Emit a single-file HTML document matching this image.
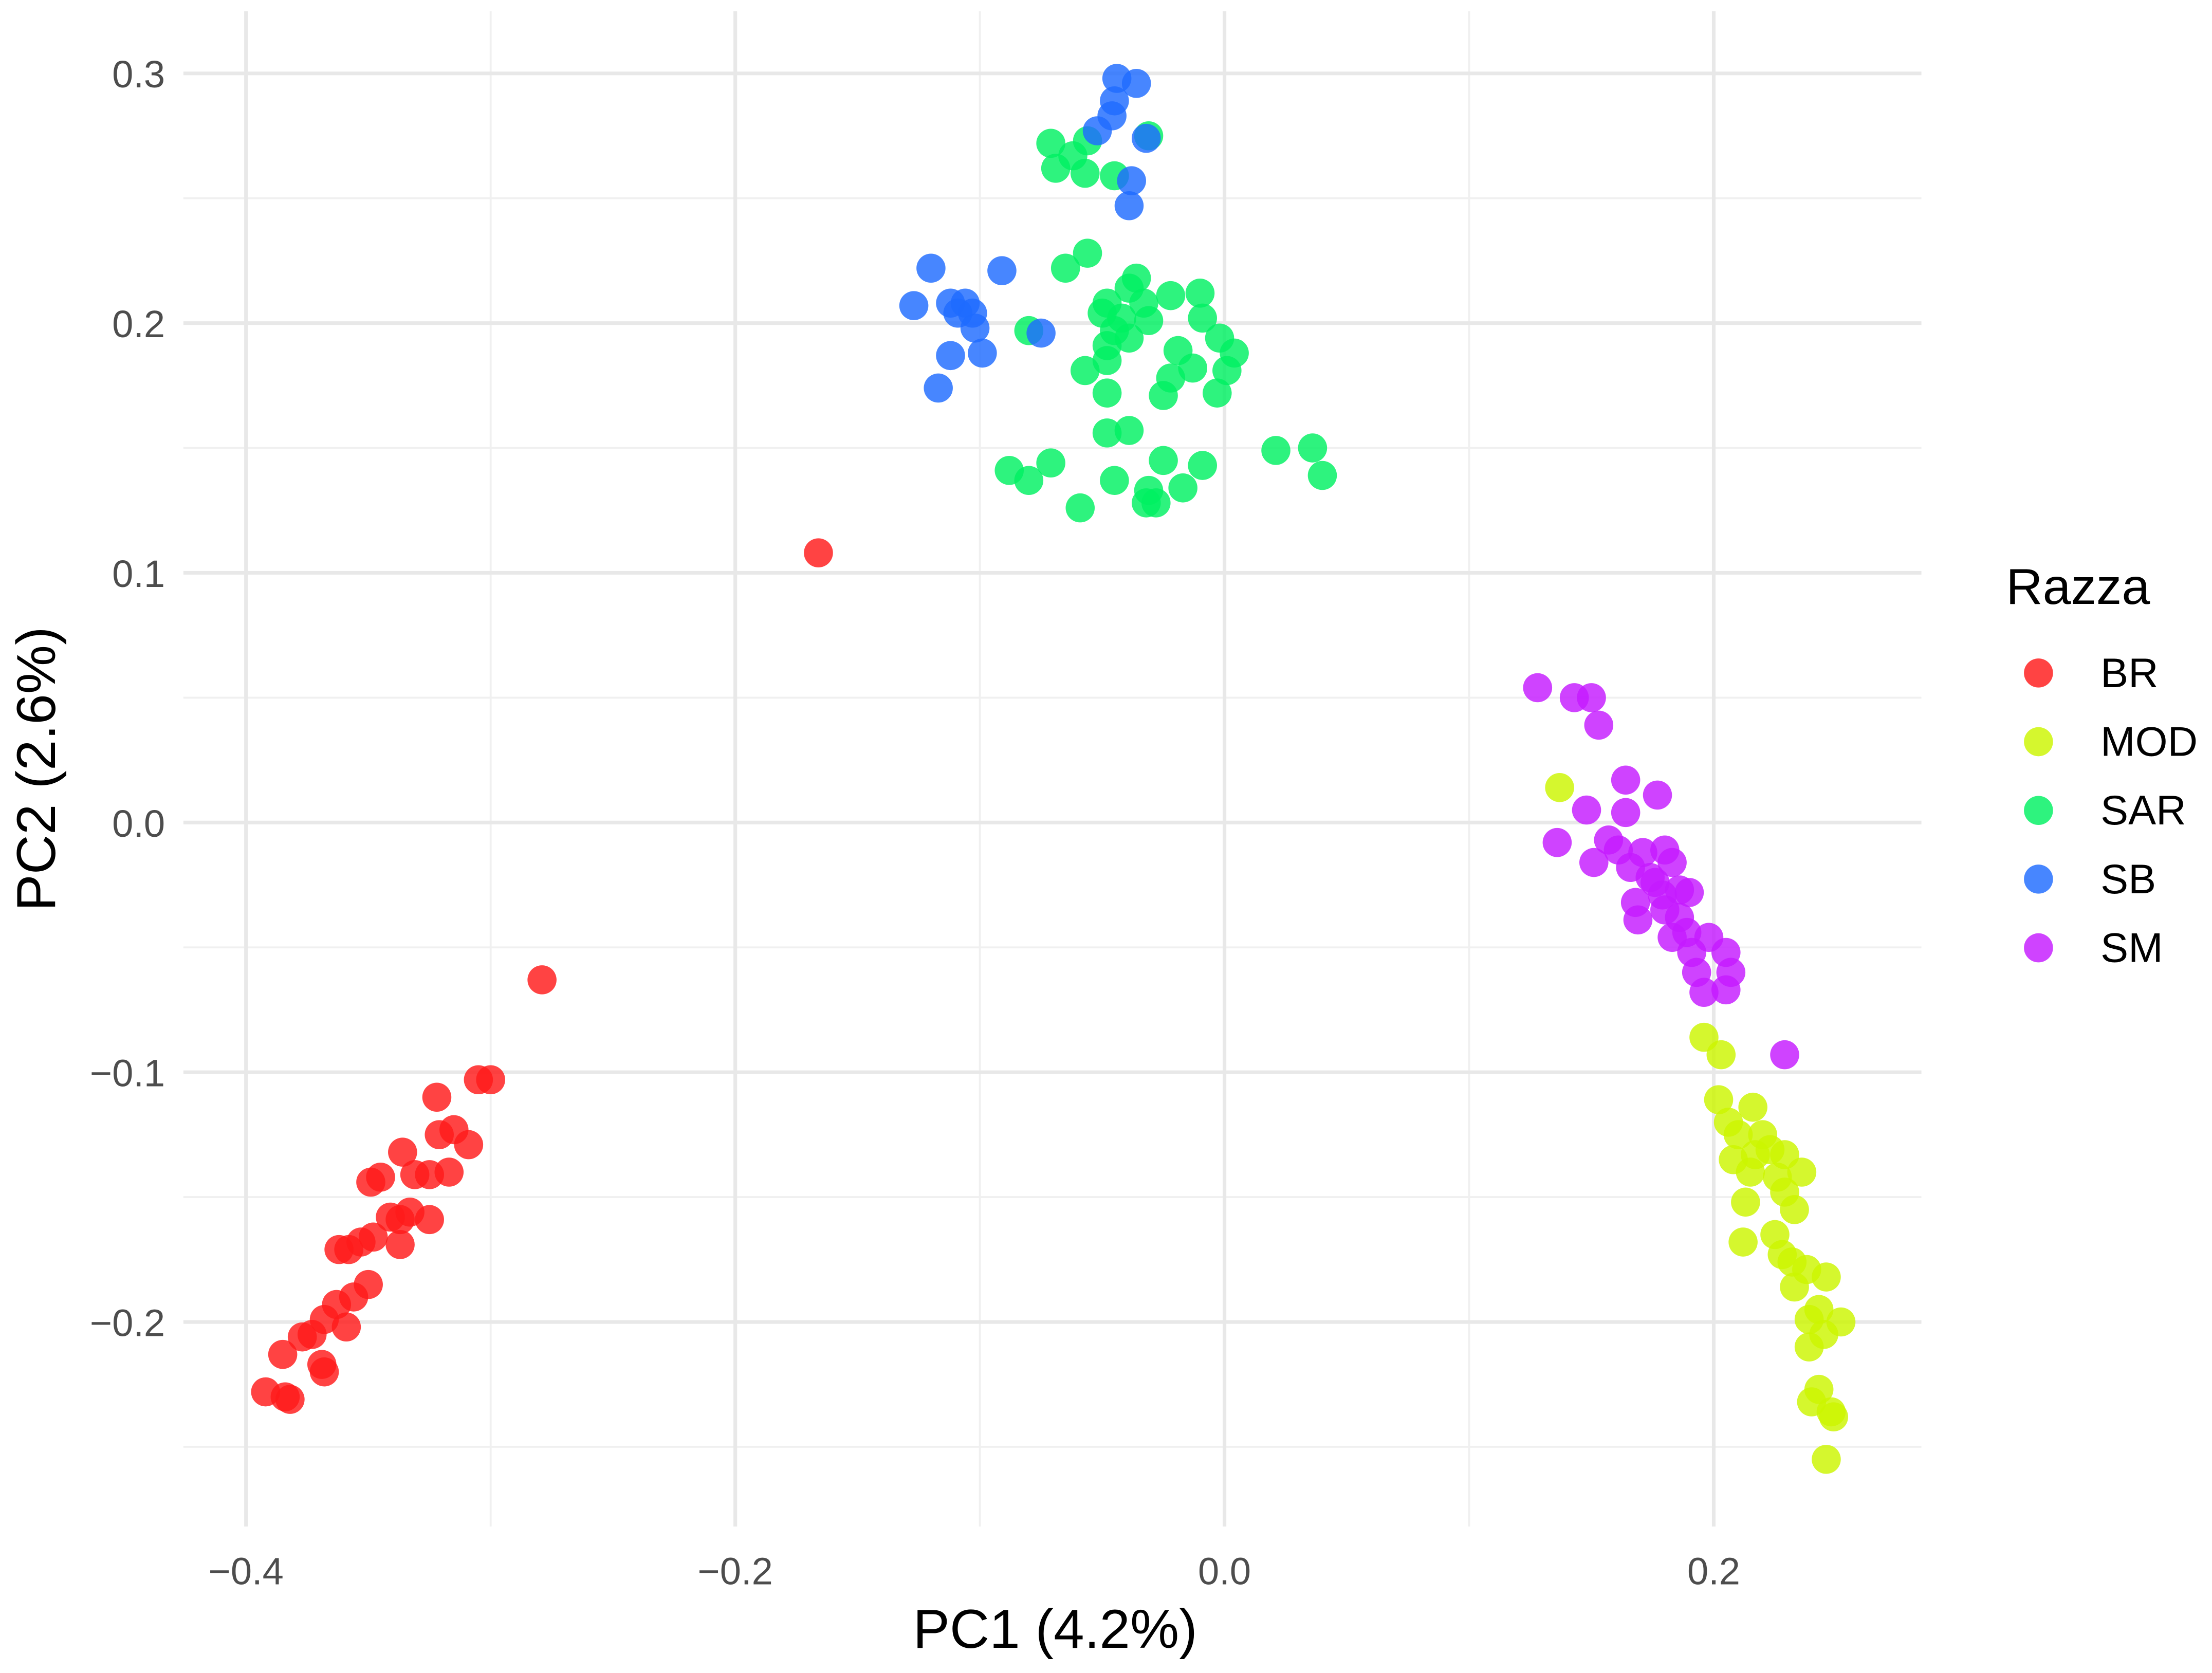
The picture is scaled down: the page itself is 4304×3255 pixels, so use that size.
<!DOCTYPE html>
<html><head><meta charset="utf-8">
<style>
html,body{margin:0;padding:0;background:#fff;}
svg{display:block;}
text{font-family:"Liberation Sans",Arial,sans-serif;}
</style></head>
<body>
<svg id="chart" width="4304" height="3255" viewBox="0 0 1568 1185.8" xmlns="http://www.w3.org/2000/svg">
<rect x="0" y="0" width="1568" height="1186" fill="#fff"/>
<g id="grid"></g>
<g id="xticks"></g>
<g id="yticks"></g>
<g id="points"></g>
<text x="748" y="1168" font-size="39" text-anchor="middle" fill="#000">PC1 (4.2%)</text>
<text transform="translate(39,545) rotate(-90)" font-size="39" text-anchor="middle" fill="#000">PC2 (2.6%)</text>
<g id="legend">
<text x="1422" y="428" font-size="36" fill="#000">Razza</text>
</g>
</svg>
<script>
const xMajor=[-0.4,-0.2,0.0,0.2];
const xMinor=[-0.3,-0.1,0.1];
const xTickLabels=["-0.4","-0.2","0.0","0.2"];
const yMajor=[-0.2,-0.1,0.0,0.1,0.2,0.3];
const yMinor=[-0.25,-0.15,-0.05,0.05,0.15,0.25];
const yTickLabels=["-0.2","-0.1","0.0","0.1","0.2","0.3"];
const groups=["BR","MOD","SAR","SB","SM"];
const groupColors=["#ff1a1a","#ccf500","#00f062","#1f6bff","#c51aff"];
const brX=[-0.166,-0.279,-0.300,-0.305,-0.322,-0.309,-0.315,-0.321,-0.317,-0.325,-0.336,-0.331,-0.325,-0.337,-0.333,-0.341,-0.345,-0.349,-0.337,-0.348,-0.353,-0.358,-0.362,-0.350,-0.359,-0.363,-0.368,-0.373,-0.377,-0.369,-0.368,-0.385,-0.392,-0.384,-0.382,-0.356];
const brY=[0.108,-0.063,-0.103,-0.103,-0.110,-0.129,-0.123,-0.125,-0.140,-0.141,-0.132,-0.141,-0.159,-0.159,-0.156,-0.158,-0.142,-0.144,-0.169,-0.166,-0.168,-0.171,-0.171,-0.185,-0.202,-0.193,-0.199,-0.205,-0.206,-0.217,-0.220,-0.213,-0.228,-0.230,-0.231,-0.190];
const modX=[0.137,0.196,0.203,0.202,0.206,0.216,0.210,0.220,0.223,0.208,0.215,0.229,0.236,0.229,0.213,0.233,0.225,0.212,0.228,0.232,0.238,0.233,0.246,0.252,0.243,0.239,0.245,0.239,0.243,0.240,0.248,0.249,0.246,0.217,0.226];
const modY=[0.014,-0.086,-0.093,-0.111,-0.120,-0.114,-0.125,-0.125,-0.131,-0.135,-0.140,-0.133,-0.140,-0.148,-0.152,-0.155,-0.165,-0.168,-0.173,-0.176,-0.179,-0.186,-0.182,-0.200,-0.195,-0.199,-0.205,-0.210,-0.227,-0.232,-0.236,-0.238,-0.255,-0.133,-0.142];
const sarX=[-0.071,-0.062,-0.056,-0.069,-0.057,-0.045,-0.031,-0.056,-0.065,-0.080,-0.045,-0.048,-0.039,-0.036,-0.050,-0.042,-0.033,-0.022,-0.010,-0.009,-0.048,-0.039,-0.031,-0.019,-0.002,0.004,0.001,-0.057,-0.048,-0.022,-0.013,-0.025,-0.003,-0.048,-0.048,-0.039,-0.088,-0.080,-0.071,-0.045,-0.025,-0.009,-0.031,-0.032,-0.028,-0.017,-0.059,0.021,0.036,0.040];
const sarY=[0.272,0.267,0.273,0.262,0.260,0.259,0.275,0.228,0.222,0.197,0.197,0.208,0.214,0.218,0.204,0.202,0.208,0.211,0.212,0.202,0.191,0.194,0.201,0.189,0.194,0.188,0.181,0.181,0.185,0.178,0.182,0.171,0.172,0.172,0.156,0.157,0.141,0.137,0.144,0.137,0.145,0.143,0.133,0.128,0.128,0.134,0.126,0.149,0.150,0.139];
const sbX=[-0.044,-0.036,-0.045,-0.046,-0.052,-0.032,-0.038,-0.039,-0.120,-0.091,-0.127,-0.112,-0.106,-0.103,-0.109,-0.102,-0.112,-0.099,-0.117,-0.075];
const sbY=[0.298,0.296,0.289,0.283,0.277,0.274,0.257,0.247,0.222,0.221,0.207,0.208,0.208,0.204,0.204,0.198,0.187,0.188,0.174,0.196];
const smX=[0.128,0.143,0.150,0.153,0.164,0.148,0.164,0.177,0.136,0.151,0.161,0.171,0.180,0.183,0.174,0.168,0.179,0.186,0.190,0.180,0.169,0.186,0.189,0.198,0.205,0.193,0.207,0.205,0.196,0.229,0.157,0.166,0.176,0.191,0.183];
const smY=[0.054,0.050,0.050,0.039,0.017,0.005,0.004,0.011,-0.008,-0.016,-0.011,-0.012,-0.011,-0.016,-0.022,-0.032,-0.029,-0.027,-0.028,-0.035,-0.039,-0.038,-0.044,-0.046,-0.052,-0.060,-0.060,-0.067,-0.068,-0.093,-0.007,-0.018,-0.024,-0.052,-0.046];

const NS="http://www.w3.org/2000/svg";
const PL=130,PR=1362,PT=8,PB=1082;
function sx(v){return 868+v*1734;}
function sy(v){return 583-v*1770;}
function mk(tag,attrs,parent){const e=document.createElementNS(NS,tag);for(const k in attrs)e.setAttribute(k,attrs[k]);parent.appendChild(e);return e;}
const grid=document.getElementById('grid');
yMinor.forEach(v=>{const l=mk('line',{x1:PL,x2:PR,y1:sy(v),y2:sy(v),stroke:'#f0f0f0','stroke-width':1.4},grid);

});
xMinor.forEach(v=>{const l=mk('line',{x1:sx(v),x2:sx(v),y1:PT,y2:PB,stroke:'#f0f0f0','stroke-width':1.4},grid);

});
yMajor.forEach(v=>{const l=mk('line',{x1:PL,x2:PR,y1:sy(v),y2:sy(v),stroke:'#e8e8e8','stroke-width':2.6},grid);

});
xMajor.forEach(v=>{const l=mk('line',{x1:sx(v),x2:sx(v),y1:PT,y2:PB,stroke:'#e8e8e8','stroke-width':2.6},grid);

});
const xt=document.getElementById('xticks');
xMajor.forEach((v,i)=>{const t=mk('text',{x:sx(v),y:1123,'font-size':27,'text-anchor':'middle',fill:'#4d4d4d'},xt);t.textContent=xTickLabels[i].replace('-','\u2212');

});
const yt=document.getElementById('yticks');
yMajor.forEach((v,i)=>{const t=mk('text',{x:117,y:sy(v)+10,'font-size':27,'text-anchor':'end',fill:'#4d4d4d'},yt);t.textContent=yTickLabels[i].replace('-','\u2212');

});
const pts=document.getElementById('points');
const series=[[brX,brY],[modX,modY],[sarX,sarY],[sbX,sbY],[smX,smY]];
series.forEach((s,gi)=>{s[0].forEach((x,i)=>{const c=mk('circle',{cx:sx(x),cy:sy(s[1][i]),r:10.3,fill:groupColors[gi],'fill-opacity':0.82},pts);

});});
const lg=document.getElementById('legend');
groups.forEach((g,i)=>{const y=477+i*48.7;
const c=mk('circle',{cx:1445,cy:y,r:10.3,fill:groupColors[i],'fill-opacity':0.82},lg);


const t=mk('text',{x:1489,y:y+10,'font-size':29.5,fill:'#000'},lg);t.textContent=g;

});
</script>
</body></html>
